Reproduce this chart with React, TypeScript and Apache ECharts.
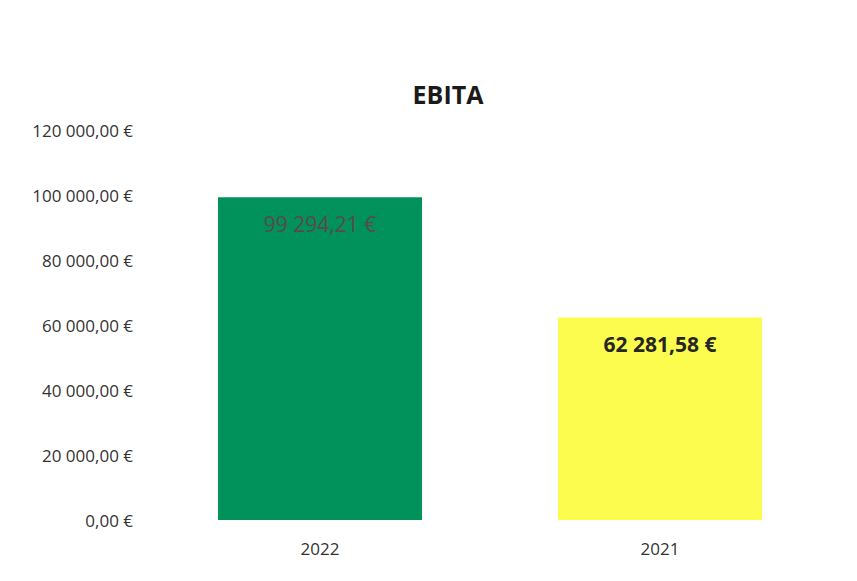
import React, { useEffect, useRef } from "react";
import * as echarts from "echarts";

const categories = ["2022", "2021"];
const values = [99294.21, 62281.58];
const barColors = ["#00925A", "#FBFC4E"];
const labelColors = ["#5a4a4a", "#262626"];
const labelWeights = ["normal", "bold"];

function fmt(v: number): string {
  const [i, d] = v.toFixed(2).split(".");
  const int = i.replace(/\B(?=(\d{3})+(?!\d))/g, " ");
  return `${int},${d} €`;
}

export default function App() {
  const ref = useRef<HTMLDivElement>(null);
  useEffect(() => {
    if (!ref.current) return;
    const chart = echarts.init(ref.current, undefined, { renderer: "svg" });
    const font = "'Open Sans', 'Noto Sans', sans-serif";
    chart.setOption({
      animation: false,
      backgroundColor: "#ffffff",
      title: {
        text: "EBITA",
        left: 435,
        textAlign: "center",
        top: 68,
        textStyle: { fontFamily: font, fontSize: 25, fontWeight: "bold", color: "#1a1a1a" },
      },
      grid: { left: 142, right: 19, top: 122, bottom: 53 },
      xAxis: {
        type: "category",
        data: categories,
        axisLine: { show: false },
        axisTick: { show: false },
        axisLabel: { fontFamily: font, fontSize: 17, color: "#333", margin: 20 },
      },
      yAxis: {
        type: "value",
        min: 0,
        max: 120000,
        interval: 20000,
        splitLine: { show: false },
        axisLine: { show: false },
        axisTick: { show: false },
        axisLabel: {
          fontFamily: font,
          fontSize: 17,
          color: "#333",
          margin: 17,
          formatter: (v: number) => fmt(v),
        },
      },
      series: [
        {
          type: "bar",
          barWidth: "60%",
          data: values.map((v, i) => ({
            value: v,
            itemStyle: { color: barColors[i] },
            label: { color: labelColors[i], fontWeight: labelWeights[i] },
          })),
          label: {
            show: true,
            position: "insideTop",
            distance: 16,
            fontFamily: font,
            fontSize: 21,
            formatter: (p: any) => fmt(p.value),
          },
        },
      ],
    });
    return () => chart.dispose();
  }, []);
  return <div ref={ref} style={{ width: 841, height: 565 }} />;
}
